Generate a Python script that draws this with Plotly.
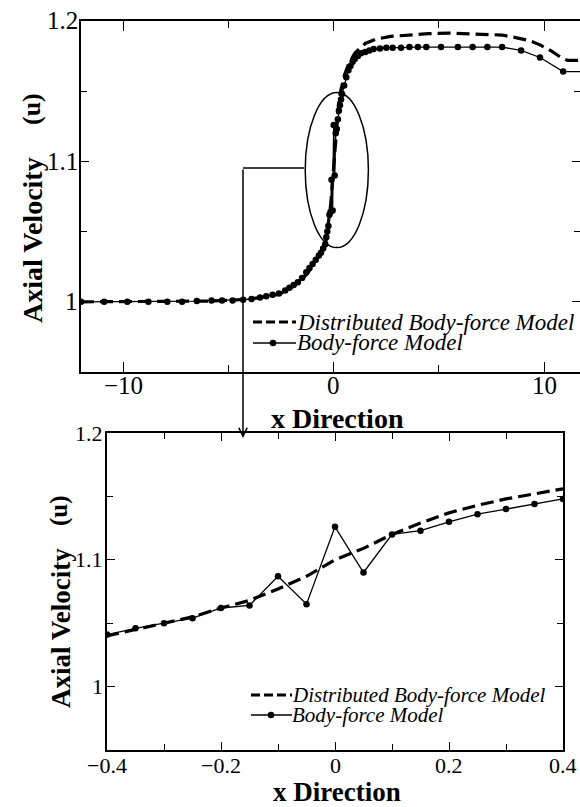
import plotly.graph_objects as go

W, H = 580, 807

# ---------------- data ----------------
series_names = ["Distributed Body-force Model", "Body-force Model"]

# Body-force Model (solid line with markers)
body_x = [-12.0, -10.9, -9.8, -8.8, -7.9, -7.2, -6.5, -5.8, -5.3, -4.8, -4.3,
          -3.9, -3.5, -3.2, -2.9, -2.6, -2.3, -2.1, -1.9, -1.7, -1.5, -1.3,
          -1.15, -1.0, -0.85, -0.7, -0.6, -0.5, -0.4, -0.35, -0.3, -0.25, -0.2,
          -0.15, -0.1, -0.05, 0.0, 0.05, 0.1, 0.15, 0.2, 0.25, 0.3, 0.35, 0.4,
          0.5, 0.6, 0.7, 0.8, 0.9, 1.0, 1.15, 1.3, 1.5, 1.7, 1.9, 2.2, 2.5,
          2.8, 3.2, 3.6, 4.0, 4.4, 5.1, 5.9, 6.6, 7.3, 8.0, 8.9, 9.8, 10.9, 12.0]
body_y = [1.000, 1.000, 1.000, 1.000, 1.000, 1.000, 1.0005, 1.001, 1.001, 1.001, 1.0015,
          1.002, 1.003, 1.004, 1.005, 1.006, 1.008, 1.010, 1.012, 1.014, 1.017, 1.021,
          1.024, 1.027, 1.030, 1.033, 1.035, 1.038, 1.041, 1.046, 1.050, 1.054, 1.062,
          1.064, 1.087, 1.065, 1.126, 1.090, 1.120, 1.123, 1.130, 1.136, 1.140, 1.144, 1.148,
          1.154, 1.160, 1.165, 1.168, 1.171, 1.173, 1.175, 1.177, 1.178, 1.179, 1.180, 1.1805, 1.181,
          1.181, 1.181, 1.1814, 1.1814, 1.1814, 1.1814, 1.1814, 1.1814, 1.1814, 1.1814, 1.179, 1.174, 1.164, 1.164]

# Distributed Body-force Model (thick dashed line)
dist_x = [-12.0, -8.0, -6.0, -5.0, -4.0, -3.0, -2.5, -2.0, -1.5, -1.2, -1.0, -0.8,
          -0.6, -0.4, -0.35, -0.3, -0.25, -0.2, -0.15, -0.1, -0.05, 0.0, 0.05, 0.1,
          0.15, 0.2, 0.25, 0.3, 0.35, 0.4, 0.5, 0.7, 1.0, 1.5, 2.0, 2.7, 3.5, 4.5,
          5.5, 6.5, 7.5, 8.0, 8.7, 9.3, 9.8, 10.3, 10.8, 11.1, 12.0]
dist_y = [1.000, 1.000, 1.0005, 1.001, 1.002, 1.004, 1.006, 1.010, 1.016, 1.021, 1.026, 1.030,
          1.035, 1.040, 1.045, 1.050, 1.055, 1.062, 1.068, 1.077, 1.087, 1.100, 1.109, 1.120,
          1.129, 1.137, 1.143, 1.148, 1.152, 1.156, 1.161, 1.169, 1.177, 1.184, 1.187, 1.189, 1.190, 1.191,
          1.1914, 1.191, 1.1905, 1.190, 1.188, 1.186, 1.183, 1.179, 1.174, 1.172, 1.172]

top_xticks = [-10, 0, 10]
top_xminor = [-5, 5]
bot_xticks = [-0.4, -0.2, 0, 0.2, 0.4]
bot_xminor = [-0.3, -0.1, 0.1, 0.3]
yticks = [1.0, 1.1, 1.2]
yminor = [1.05, 1.15]

x_title = "x Direction"
y_title_main = "Axial Velocity"
y_title_unit = "(u)"

FONT = "Liberation Serif"


def px(x):
    return x / W


def py(y):
    return (H - y) / H


def fmt(v):
    return ("%g" % v).replace("-", "\u2212")


fig = go.Figure()

dash_line = dict(color="black", width=3.2, dash="13px,6px")
solid_line = dict(color="black", width=1.3)
mark = dict(size=6.5, color="black")

for xa, ya in [("x", "y"), ("x2", "y2")]:
    fig.add_trace(go.Scatter(x=dist_x, y=dist_y, mode="lines", line=dash_line,
                             name=series_names[0], xaxis=xa, yaxis=ya, showlegend=False))
    fig.add_trace(go.Scatter(x=body_x, y=body_y, mode="lines+markers", line=solid_line,
                             marker=mark, name=series_names[1], xaxis=xa, yaxis=ya,
                             showlegend=False))


def axis_common():
    return dict(showline=True, linecolor="black", linewidth=1.6, mirror="ticks",
                ticks="inside", tickcolor="black", tickwidth=1.4,
                showgrid=False, zeroline=False, automargin=False,
                showticklabels=False)


fig.update_layout(
    template="none",
    font=dict(family=FONT, color="black"),
    width=W, height=H, autosize=False,
    margin=dict(l=0, r=0, t=0, b=0, pad=0),
    paper_bgcolor="white", plot_bgcolor="white",
    showlegend=False,
    xaxis=dict(domain=[px(81), 1.0], range=[-12, 11.7], anchor="y",
               tickvals=top_xticks, ticklen=10,
               minor=dict(tickvals=top_xminor, ticks="inside", ticklen=7,
                          tickcolor="black", tickwidth=1.4),
               **axis_common()),
    yaxis=dict(domain=[py(372), py(21)], range=[0.95, 1.2], anchor="x",
               tickvals=yticks, ticklen=8,
               minor=dict(tickvals=yminor, ticks="inside", ticklen=6,
                          tickcolor="black", tickwidth=1.4),
               **axis_common()),
    xaxis2=dict(domain=[px(107), px(563)], range=[-0.4, 0.4], anchor="y2",
                tickvals=bot_xticks, ticklen=8,
                minor=dict(tickvals=bot_xminor, ticks="inside", ticklen=6,
                           tickcolor="black", tickwidth=1.4),
                **axis_common()),
    yaxis2=dict(domain=[py(750), py(433)], range=[0.95, 1.2], anchor="x2",
                tickvals=yticks, ticklen=8,
                minor=dict(tickvals=yminor, ticks="inside", ticklen=6,
                           tickcolor="black", tickwidth=1.4),
                **axis_common()),
)

ann = []


def text_ann(text, x, y, size, angle=0, xanchor="center", xref="paper", yref="paper"):
    ann.append(dict(text=text, x=x if xref != "paper" else px(x),
                    y=y if yref != "paper" else py(y), xref=xref, yref=yref,
                    showarrow=False, xanchor=xanchor, yanchor="middle", textangle=angle,
                    font=dict(family=FONT, size=size, color="black")))


# tick labels placed on the axes' own scales
for v in top_xticks:
    text_ann(fmt(v), v, 386, 25, xref="x")
for v in bot_xticks:
    text_ann(fmt(v), v, 765, 22, xref="x2")
for v in yticks:
    text_ann(fmt(v), 80, v, 25, xanchor="right", yref="y")
    text_ann(fmt(v), 105, v, 22, xanchor="right", yref="y2")

# axis titles
text_ann("<b>" + x_title + "</b>", 337, 418, 28)
text_ann("<b>" + x_title + "</b>", 337, 792, 27)
text_ann("<b>" + y_title_main + "</b>", 33, 240, 28, angle=-90)
text_ann("<b>" + y_title_unit + "</b>", 31, 109, 26, angle=-90)
text_ann("<b>" + y_title_main + "</b>", 61, 628, 27, angle=-90)
text_ann("<b>" + y_title_unit + "</b>", 59, 511, 25, angle=-90)

# zoom arrow (vertical connector)
ann.append(dict(text="", x=px(243), y=py(438), xref="paper", yref="paper",
                showarrow=True, ax=0, ay=-(438 - 168), axref="pixel", ayref="pixel",
                arrowhead=5, arrowsize=1.1, arrowwidth=1.5, arrowcolor="black"))

shapes = []
# ellipse around transition region (data coords of top plot)
shapes.append(dict(type="circle", xref="x", yref="y", x0=-1.35, x1=1.65, y0=1.0386, y1=1.149,
                   line=dict(color="black", width=1.5)))
# horizontal connector
shapes.append(dict(type="line", xref="paper", yref="paper", x0=px(243), x1=px(304),
                   y0=py(168), y1=py(168), line=dict(color="black", width=1.5)))


def legend_block(x0, x1, xm, yd, ys, xt, fs):
    shapes.append(dict(type="line", xref="paper", yref="paper", x0=px(x0), x1=px(x1),
                       y0=py(yd), y1=py(yd), line=dict(color="black", width=3.2, dash="9px,4px")))
    shapes.append(dict(type="line", xref="paper", yref="paper", x0=px(x0), x1=px(x1),
                       y0=py(ys), y1=py(ys), line=dict(color="black", width=1.3)))
    shapes.append(dict(type="circle", xref="paper", yref="paper", x0=px(xm - 3.3), x1=px(xm + 3.3),
                       y0=py(ys + 3.3), y1=py(ys - 3.3), fillcolor="black",
                       line=dict(color="black", width=0)))
    for name, yy in zip(series_names, [yd, ys]):
        text_ann("<i>" + name + "</i>", xt, yy, fs, xanchor="left")


legend_block(253, 296, 273, 322, 343, 295, 23)
legend_block(251, 292, 271, 695, 715, 290, 21)

fig.update_layout(annotations=ann, shapes=shapes)

fig.write_html("out.html")
